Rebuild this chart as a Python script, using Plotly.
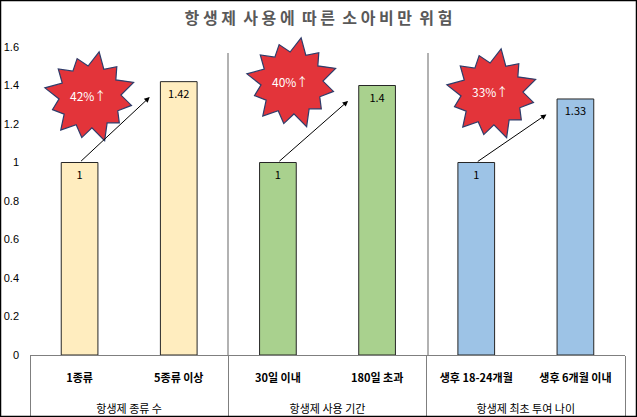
import math
import plotly.graph_objects as go

# Chart data
groups = ["항생제 종류 수", "항생제 사용 기간", "항생제 최초 투여 나이"]
categories = ["1종류", "5종류 이상", "30일 이내", "180일 초과", "생후 18-24개월", "생후 6개월 이내"]
risk = [1, 1.42, 1, 1.4, 1, 1.33]
increase_labels = ["42%↑", "40%↑", "33%↑"]

bar_colors = ["#FFEDBF", "#FFEDBF", "#A9D18E", "#A9D18E", "#9DC3E6", "#9DC3E6"]
FONT = "Noto Sans CJK KR"

# Canvas geometry (pixels) used to place decorations
W, H = 637, 417
L, R, T, B = 30, 12, 47, 62
PW, PH = W - L - R, H - T - B
Y_MAX = 1.6


def px(x):
    return (x - L) / PW


def py(y):
    return (H - B - y) / PH


group_x = [g for g in groups for _ in range(2)]
# inner labels get a taller empty second line so the group row sits lower
cat_labels = [f"<b>{c}</b><br><span style='font-size:29px'> </span>" for c in categories]

fig = go.Figure()
fig.add_trace(go.Bar(
    x=[group_x, cat_labels],
    y=risk,
    marker=dict(color=bar_colors, line=dict(color="#262626", width=1)),
    text=[str(v) for v in risk],
    textposition="inside",
    insidetextanchor="end",
    textfont=dict(family=FONT, size=11, color="#000000"),
    hoverinfo="skip",
))


def star_path(cx, cy, n=12, r_out=46, r_in=31):
    spikes = [1.0, 0.88, 1.0, 0.92, 0.85, 1.0, 0.9, 0.96, 0.86, 1.0, 0.92, 0.88]
    pts = []
    for k in range(2 * n):
        ang = math.pi * k / n - math.pi / 2 + 0.2
        r = r_out * spikes[(k // 2) % len(spikes)] if k % 2 == 0 else r_in
        pts.append((px(cx + r * math.cos(ang)), py(cy + r * math.sin(ang))))
    return "M " + " L ".join(f"{a:.5f},{b:.5f}" for a, b in pts) + " Z"


shapes = []
annotations = []
cat_w = PW / len(categories)
star_centers = [(90, 97), (292, 83), (492, 94)]
for gi in range(3):
    i0 = gi * 2
    x_left = L + (i0 + 0.5) * cat_w
    x_right = L + (i0 + 1.5) * cat_w
    cx, cy = star_centers[gi]
    shapes.append(dict(type="path", xref="paper", yref="paper", path=star_path(cx, cy),
                       fillcolor="#E3343A", line=dict(color="#2E3D6B", width=1.2), layer="above"))
    annotations.append(dict(xref="paper", yref="paper", x=px(cx - 2), y=py(cy - 2),
                            xanchor="center", yanchor="middle", text=increase_labels[gi],
                            showarrow=False, font=dict(family=FONT, size=12, color="#FFFFFF")))
    # arrow from the top of first bar towards the second bar
    tip_val = risk[i0 + 1] - 0.08
    tip_x = x_right - 29
    annotations.append(dict(xref="paper", yref="y", x=px(tip_x), y=tip_val,
                            ax=x_left - tip_x, ay=(tip_val - risk[i0]) * PH / Y_MAX,
                            showarrow=True, arrowhead=2, arrowsize=1.1, arrowwidth=1,
                            arrowcolor="#000000", text=""))

# group separators inside the plot area
for sx in [228, 428]:
    shapes.append(dict(type="line", xref="paper", yref="paper", x0=px(sx), x1=px(sx),
                       y0=py(53), y1=0, line=dict(color="#7F7F7F", width=1.2)))

# outer frame
shapes.append(dict(type="rect", xref="paper", yref="paper", x0=px(0.5), x1=px(W - 0.5),
                   y0=py(H - 0.5), y1=py(0.5), line=dict(color="#000000", width=1.5)))

fig.update_layout(
    width=W, height=H,
    margin=dict(l=L, r=R, t=T, b=B),
    paper_bgcolor="#FFFFFF", plot_bgcolor="#FFFFFF",
    showlegend=False,
    bargap=0.63,
    title=dict(text="<b>항 생 제  사 용 에  따 른  소 아 비 만  위 험</b>", x=0.5, xanchor="center",
               y=1 - 18 / H, yanchor="middle",
               font=dict(family=FONT, size=16, color="#595959")),
    font=dict(family=FONT, size=11, color="#000000"),
    xaxis=dict(type="multicategory", showgrid=False, showline=True, linecolor="#7F7F7F",
               showdividers=True, dividercolor="#7F7F7F", dividerwidth=1.2,
               automargin=False, ticklabelstandoff=13,
               tickfont=dict(family=FONT, size=11, color="#000000")),
    yaxis=dict(range=[0, Y_MAX], dtick=0.2, showgrid=False, zeroline=False, showline=False,
               automargin=False, ticklabelstandoff=10,
               tickfont=dict(family="Liberation Sans", size=11, color="#000000"), ticks=""),
    shapes=shapes,
    annotations=annotations,
)

# drop the browser's default body margin so the figure fills the window
fig.write_html("out.html", config={"displayModeBar": False},
               post_script="document.body.style.margin='0';")
